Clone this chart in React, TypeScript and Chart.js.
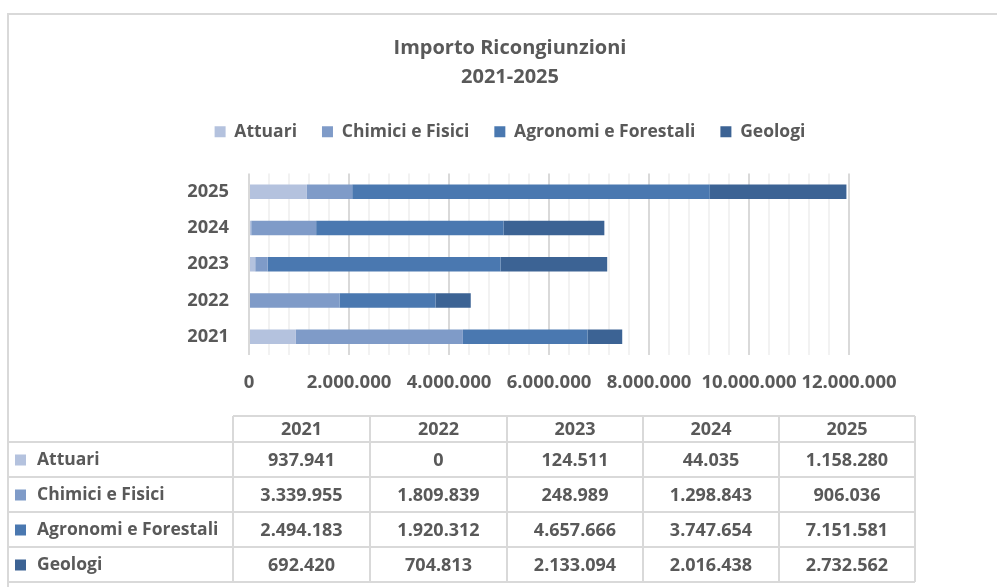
import React, { useEffect, useRef } from 'react';
import { Chart, registerables } from 'chart.js';

Chart.register(...registerables);

const years = ['2021', '2022', '2023', '2024', '2025'];
const seriesNames = ['Attuari', 'Chimici e Fisici', 'Agronomi e Forestali', 'Geologi'];
const attuari = [937941, 0, 124511, 44035, 1158280];
const chimici = [3339955, 1809839, 248989, 1298843, 906036];
const agronomi = [2494183, 1920312, 4657666, 3747654, 7151581];
const geologi = [692420, 704813, 2133094, 2016438, 2732562];
const seriesColors = ['#b4c2de', '#7f9bc8', '#4a78b0', '#3c6394'];
const titleLines = ['Importo Ricongiunzioni', '2021-2025'];
const axisMax = 12000000;
const majorStep = 2000000;
const minorStep = 400000;

const FONT = '"Open Sans", sans-serif';
const TEXT = '#595959';
const BORDER = '#d9d9d9';

const fmt = (n: number) => String(Math.round(n)).replace(/\B(?=(\d{3})+(?!\d))/g, '.');

const tablePlugin = {
  id: 'tableAndFrame',
  beforeInit(chart: any) {
    if (chart.legend && !chart.legend.__patched) {
      const fit = chart.legend.fit;
      chart.legend.fit = function () {
        fit.call(this);
        this.height += 23;
      };
      chart.legend.__patched = true;
    }
  },
  beforeDraw(chart: any) {
    const ctx = chart.ctx;
    ctx.save();
    ctx.fillStyle = '#ffffff';
    ctx.fillRect(0, 0, chart.width, chart.height);
    ctx.restore();
  },
  afterDraw(chart: any) {
    const ctx = chart.ctx;
    const all = [attuari, chimici, agronomi, geologi];
    const cols = [233, 370, 507, 643, 779, 915];
    const rows = [416, 442, 477, 512, 547, 582];
    const left = 8;
    ctx.save();
    ctx.strokeStyle = BORDER;
    ctx.lineWidth = 2;
    // outer frame
    ctx.beginPath();
    ctx.moveTo(left, chart.height + 2);
    ctx.lineTo(left, 14);
    ctx.lineTo(chart.width + 2, 14);
    ctx.stroke();
    // table grid
    ctx.beginPath();
    ctx.moveTo(cols[0], rows[0]);
    ctx.lineTo(cols[cols.length - 1], rows[0]);
    for (let r = 1; r < rows.length; r++) {
      ctx.moveTo(left, rows[r]);
      ctx.lineTo(cols[cols.length - 1], rows[r]);
    }
    for (const c of cols) {
      ctx.moveTo(c, rows[0]);
      ctx.lineTo(c, rows[rows.length - 1]);
    }
    ctx.stroke();
    // texts
    ctx.fillStyle = TEXT;
    ctx.font = `bold 18px ${FONT}`;
    ctx.textBaseline = 'middle';
    ctx.textAlign = 'center';
    years.forEach((y, i) => {
      ctx.fillText(y, (cols[i] + cols[i + 1]) / 2, (rows[0] + rows[1]) / 2 + 1);
    });
    seriesNames.forEach((name, s) => {
      const cy = (rows[s + 1] + rows[s + 2]) / 2 + 1;
      ctx.fillStyle = seriesColors[s];
      ctx.fillRect(15, cy - 6, 11, 11);
      ctx.fillStyle = TEXT;
      ctx.textAlign = 'left';
      ctx.font = `bold 17.5px ${FONT}`;
      ctx.fillText(name, 37, cy);
      ctx.textAlign = 'center';
      ctx.font = `bold 18px ${FONT}`;
      all[s].forEach((v, i) => {
        ctx.fillText(fmt(v), (cols[i] + cols[i + 1]) / 2, cy);
      });
    });
    ctx.restore();
  },
};

export default function App() {
  const ref = useRef<HTMLCanvasElement | null>(null);
  useEffect(() => {
    if (!ref.current) return;
    const all = [attuari, chimici, agronomi, geologi];
    const chart = new Chart(ref.current, {
      type: 'bar',
      data: {
        labels: years,
        datasets: seriesNames.map((name, i) => ({
          label: name,
          data: all[i],
          backgroundColor: seriesColors[i],
          borderWidth: 0,
          categoryPercentage: 1,
          barPercentage: 0.4,
        })),
      },
      options: {
        indexAxis: 'y',
        responsive: false,
        animation: false,
        devicePixelRatio: 1,
        layout: { padding: { left: 171, right: 148, top: 0, bottom: 190 } },
        plugins: {
          tooltip: { enabled: false },
          title: {
            display: true,
            text: titleLines,
            color: TEXT,
            font: { family: FONT, size: 20, weight: 'bold', lineHeight: 29 / 20 },
            padding: { top: 34, bottom: 6 },
          },
          legend: {
            display: true,
            position: 'top',
            labels: {
              boxWidth: 11,
              boxHeight: 11,
              padding: 25,
              color: TEXT,
              font: { family: FONT, size: 17.5, weight: 'bold' },
            },
          },
        },
        scales: {
          x: {
            stacked: true,
            min: 0,
            max: axisMax,
            border: { display: false },
            grid: {
              drawTicks: false,
              lineWidth: 2,
              color: (c: any) => (c.tick && c.tick.value % majorStep === 0 ? '#d9d9d9' : '#f2f2f2'),
            },
            ticks: {
              stepSize: minorStep,
              autoSkip: false,
              maxRotation: 0,
              minRotation: 0,
              padding: 17,
              color: TEXT,
              font: { family: FONT, size: 18.5, weight: 'bold' },
              callback: (v: any) => (Number(v) % majorStep === 0 ? fmt(Number(v)) : ''),
            },
            afterFit: (s: any) => {
              s.height = 42;
            },
          },
          y: {
            stacked: true,
            reverse: true,
            border: { display: false },
            grid: { display: false, drawTicks: false },
            ticks: {
              padding: 20,
              color: TEXT,
              font: { family: FONT, size: 18.3, weight: 'bold' },
            },
            afterFit: (s: any) => {
              s.width = 78;
            },
          },
        },
      },
      plugins: [tablePlugin],
    } as any);
    return () => chart.destroy();
  }, []);
  return (
    <div style={{ position: 'fixed', left: 0, top: 0, width: 997, height: 587, background: '#fff' }}>
      <canvas ref={ref} width={997} height={587} style={{ display: 'block' }} />
    </div>
  );
}
